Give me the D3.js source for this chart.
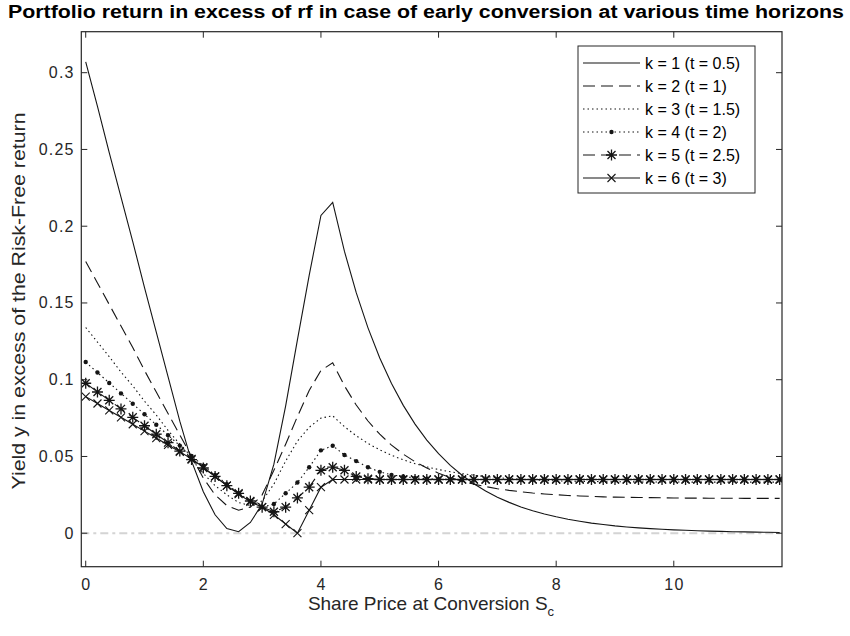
<!DOCTYPE html>
<html>
<head>
<meta charset="utf-8">
<script src="https://cdn.jsdelivr.net/npm/d3@7"></script>
<style>
  body { margin: 0; background: #fff; }
  text { font-family: "Liberation Sans", Arial, Helvetica, sans-serif; }
</style>
</head>
<body>
<svg id="chart" width="850" height="636"></svg>
<script>
// Share price grid at conversion (S_c)
const sharePrice = [0,0.2,0.4,0.6,0.8,1,1.2,1.4,1.6,1.8,2,2.2,2.4,2.6,2.8,3,3.2,3.4,3.6,3.8,
  4,4.2,4.4,4.6,4.8,5,5.2,5.4,5.6,5.8,6,6.2,6.4,6.6,6.8,7,7.2,7.4,7.6,7.8,
  8,8.2,8.4,8.6,8.8,9,9.2,9.4,9.6,9.8,10,10.2,10.4,10.6,10.8,11,11.2,11.4,11.6,11.8];

// Yield in excess of the risk-free return, one array per horizon k
const yieldK1 = [0.307,0.278,0.248,0.219,0.190,0.160,0.131,0.102,0.073,0.047,0.027,0.012,0.003,0.001,0.007,0.019,0.045,0.083,0.126,0.168,
  0.207,0.2155,0.1836,0.1567,0.1338,0.1142,0.0975,0.0833,0.0711,0.0607,0.0518,0.0442,0.0378,0.0322,0.0275,0.0235,0.0201,0.0171,0.0146,0.0125,
  0.0107,0.0091,0.0078,0.0066,0.0057,0.0048,0.0041,0.0035,0.0030,0.0026,0.0022,0.0019,0.0016,0.0014,0.0012,0.0010,0.0009,0.0007,0.0006,0.0005];
const yieldK2 = [0.177,0.163,0.149,0.135,0.121,0.106,0.092,0.078,0.064,0.050,0.036,0.025,0.018,0.015,0.017,0.025,0.041,0.058,0.076,0.093,
  0.106,0.111,0.0960,0.0835,0.0731,0.0645,0.0574,0.0515,0.0466,0.0425,0.0391,0.0363,0.0339,0.0320,0.0304,0.0290,0.0279,0.0270,0.0262,0.0256,
  0.0251,0.0246,0.0243,0.0240,0.0237,0.0235,0.0234,0.0233,0.0232,0.0231,0.0230,0.0229,0.0229,0.0228,0.0228,0.0228,0.0227,0.0227,0.0227,0.0227];
const yieldK3 = [0.134,0.1245,0.115,0.105,0.096,0.086,0.077,0.067,0.058,0.048,0.039,0.031,0.025,0.020,0.018,0.021,0.032,0.047,0.060,0.069,
  0.075,0.0765,0.0694,0.0635,0.0585,0.0543,0.0508,0.0478,0.0453,0.0432,0.0415,0.0400,0.0388,0.0378,0.0369,0.0362,0.0356,0.0351,0.0347,0.0344,
  0.0341,0.0339,0.0338,0.0337,0.0336,0.0335,0.0335,0.0334,0.0334,0.0334,0.0334,0.0333,0.0333,0.0333,0.0333,0.0333,0.0333,0.0333,0.0333,0.0333];
const yieldK4 = [0.1115,0.1047,0.0979,0.0911,0.0843,0.0775,0.0707,0.0639,0.0571,0.0503,0.044,0.038,0.032,0.026,0.021,0.017,0.019,0.026,0.033,0.043,
  0.054,0.057,0.051,0.047,0.043,0.040,0.038,0.037,0.036,0.0355,0.0352,0.0351,0.035,0.035,0.035,0.035,0.035,0.035,0.035,0.035,
  0.035,0.035,0.035,0.035,0.035,0.035,0.035,0.035,0.035,0.035,0.035,0.035,0.035,0.035,0.035,0.035,0.035,0.035,0.035,0.035];
const yieldK5 = [0.0977,0.092,0.0866,0.081,0.0755,0.070,0.0645,0.059,0.0535,0.048,0.0425,0.037,0.031,0.026,0.021,0.017,0.014,0.017,0.023,0.030,
  0.041,0.043,0.041,0.037,0.0355,0.035,0.035,0.035,0.035,0.035,0.035,0.035,0.035,0.035,0.035,0.035,0.035,0.035,0.035,0.035,
  0.035,0.035,0.035,0.035,0.035,0.035,0.035,0.035,0.035,0.035,0.035,0.035,0.035,0.035,0.035,0.035,0.035,0.035,0.035,0.035];
const yieldK6 = [0.089,0.0845,0.080,0.0755,0.071,0.0665,0.062,0.0575,0.053,0.0485,0.043,0.037,0.031,0.0255,0.0205,0.017,0.012,0.006,0.000,0.015,
  0.030,0.035,0.035,0.035,0.035,0.035,0.035,0.035,0.035,0.035,0.035,0.035,0.035,0.035,0.035,0.035,0.035,0.035,0.035,0.035,
  0.035,0.035,0.035,0.035,0.035,0.035,0.035,0.035,0.035,0.035,0.035,0.035,0.035,0.035,0.035,0.035,0.035,0.035,0.035,0.035];

const seriesLabels = ["k = 1 (t = 0.5)", "k = 2 (t = 1)", "k = 3 (t = 1.5)",
                      "k = 4 (t = 2)", "k = 5 (t = 2.5)", "k = 6 (t = 3)"];
const xTicks = [0, 2, 4, 6, 8, 10];
const yTicks = [0, 0.05, 0.1, 0.15, 0.2, 0.25, 0.3];
const xDomain = [-0.075, 11.84];
const yDomain = [-0.0218, 0.3267];

const titleText = "Portfolio return in excess of rf in case of early conversion at various time horizons";
const yLabelText = "Yield y in excess of the Risk-Free return";

// line style + marker per series
const styles = [
  { dash: null,    marker: null },
  { dash: "12,6",  marker: null },
  { dash: "1.5,3", marker: null },
  { dash: "1.5,3", marker: "dot" },
  { dash: "12,6",  marker: "star" },
  { dash: null,    marker: "cross" }
];
const seriesValues = [yieldK1, yieldK2, yieldK3, yieldK4, yieldK5, yieldK6];

const svg = d3.select("#chart");
const axisColor = "#262626";
const inkColor = "#151515";
const plot = { left: 81.3, right: 782, top: 31.7, bottom: 566.7 };

const x = d3.scaleLinear().domain(xDomain).range([plot.left, plot.right]);
const y = d3.scaleLinear().domain(yDomain).range([plot.bottom, plot.top]);

svg.append("defs").append("clipPath").attr("id", "plotClip")
  .append("rect").attr("x", plot.left).attr("y", plot.top)
  .attr("width", plot.right - plot.left).attr("height", plot.bottom - plot.top);

// zero reference line
svg.append("line")
  .attr("x1", x(xDomain[0])).attr("x2", x(xDomain[1]))
  .attr("y1", y(0)).attr("y2", y(0))
  .attr("stroke", "#d4d4d4").attr("stroke-width", 2)
  .attr("stroke-dasharray", "8,4,3,4");

const lineGen = d3.line().x((d, i) => x(sharePrice[i])).y(d => y(d));

function drawMarker(g, kind, cx, cy) {
  if (kind === "dot") {
    g.append("circle").attr("cx", cx).attr("cy", cy).attr("r", 2.2)
      .attr("fill", inkColor).attr("stroke", "none");
  } else if (kind === "star") {
    const r = 5.5, d = 4;
    g.append("path")
      .attr("d", `M${cx - r},${cy}H${cx + r}M${cx},${cy - r}V${cy + r}` +
                 `M${cx - d},${cy - d}L${cx + d},${cy + d}M${cx - d},${cy + d}L${cx + d},${cy - d}`)
      .attr("stroke", inkColor).attr("stroke-width", 1.3).attr("fill", "none");
  } else if (kind === "cross") {
    const d = 4;
    g.append("path")
      .attr("d", `M${cx - d},${cy - d}L${cx + d},${cy + d}M${cx - d},${cy + d}L${cx + d},${cy - d}`)
      .attr("stroke", inkColor).attr("stroke-width", 1.1).attr("fill", "none");
  }
}

const seriesLayer = svg.append("g").attr("clip-path", "url(#plotClip)");
seriesValues.forEach((vals, k) => {
  const st = styles[k];
  const g = seriesLayer.append("g");
  g.append("path").datum(vals)
    .attr("d", lineGen)
    .attr("fill", "none").attr("stroke", inkColor).attr("stroke-width", 1.1)
    .attr("stroke-dasharray", st.dash);
  if (st.marker) vals.forEach((v, i) => drawMarker(g, st.marker, x(sharePrice[i]), y(v)));
});

// axes box
svg.append("rect")
  .attr("x", plot.left).attr("y", plot.top)
  .attr("width", plot.right - plot.left).attr("height", plot.bottom - plot.top)
  .attr("fill", "none").attr("stroke", axisColor).attr("stroke-width", 1.2);

// ticks (inward, on all four sides) and tick labels
const tickLen = 6;
const axes = svg.append("g").attr("stroke", axisColor).attr("stroke-width", 1);
xTicks.forEach(t => {
  const px = x(t);
  axes.append("line").attr("x1", px).attr("x2", px).attr("y1", plot.bottom).attr("y2", plot.bottom - tickLen);
  axes.append("line").attr("x1", px).attr("x2", px).attr("y1", plot.top).attr("y2", plot.top + tickLen);
});
yTicks.forEach(t => {
  const py = y(t);
  axes.append("line").attr("x1", plot.left).attr("x2", plot.left + tickLen).attr("y1", py).attr("y2", py);
  axes.append("line").attr("x1", plot.right).attr("x2", plot.right - tickLen).attr("y1", py).attr("y2", py);
});

const tickFont = 16, tickSpacing = 1.2;
svg.append("g").selectAll("text").data(xTicks).join("text")
  .attr("x", d => x(d) + tickSpacing / 2).attr("y", 590)
  .attr("text-anchor", "middle").attr("font-size", tickFont)
  .attr("letter-spacing", tickSpacing).attr("fill", axisColor)
  .text(d => d3.format("~g")(d));

svg.append("g").selectAll("text").data(yTicks).join("text")
  .attr("x", 73.5 + tickSpacing).attr("y", d => y(d) + 5.5)
  .attr("text-anchor", "end").attr("font-size", tickFont)
  .attr("letter-spacing", tickSpacing).attr("fill", axisColor)
  .text(d => d3.format("~g")(d));

// axis labels
const xl = svg.append("text")
  .attr("x", 431).attr("y", 610)
  .attr("text-anchor", "middle").attr("font-size", 19).attr("fill", axisColor);
xl.append("tspan").text("Share Price at Conversion S");
xl.append("tspan").attr("font-size", 13).attr("dy", 6).text("c");

svg.append("text")
  .attr("transform", "translate(25,301) rotate(-90)")
  .attr("text-anchor", "middle").attr("font-size", 19).attr("fill", axisColor)
  .attr("textLength", 377).attr("lengthAdjust", "spacingAndGlyphs")
  .text(yLabelText);

// title
svg.append("text")
  .attr("x", 426).attr("y", 18)
  .attr("text-anchor", "middle").attr("font-size", 17.5).attr("font-weight", "bold")
  .attr("fill", "#000")
  .attr("textLength", 836).attr("lengthAdjust", "spacingAndGlyphs")
  .text(titleText);

// legend
const legend = svg.append("g");
legend.append("rect").attr("x", 578).attr("y", 46).attr("width", 177).attr("height", 147)
  .attr("fill", "#fff").attr("stroke", axisColor).attr("stroke-width", 1);
seriesLabels.forEach((lab, k) => {
  const ly = 63 + k * 23;
  const st = styles[k];
  const g = legend.append("g");
  g.append("line").attr("x1", 583).attr("x2", 640).attr("y1", ly).attr("y2", ly)
    .attr("stroke", inkColor).attr("stroke-width", 1.1).attr("stroke-dasharray", st.dash);
  if (st.marker) drawMarker(g, st.marker, 611.5, ly);
  g.append("text").attr("x", 645).attr("y", ly + 5.5)
    .attr("font-size", 16).attr("fill", "#000").text(lab);
});
</script>
</body>
</html>
